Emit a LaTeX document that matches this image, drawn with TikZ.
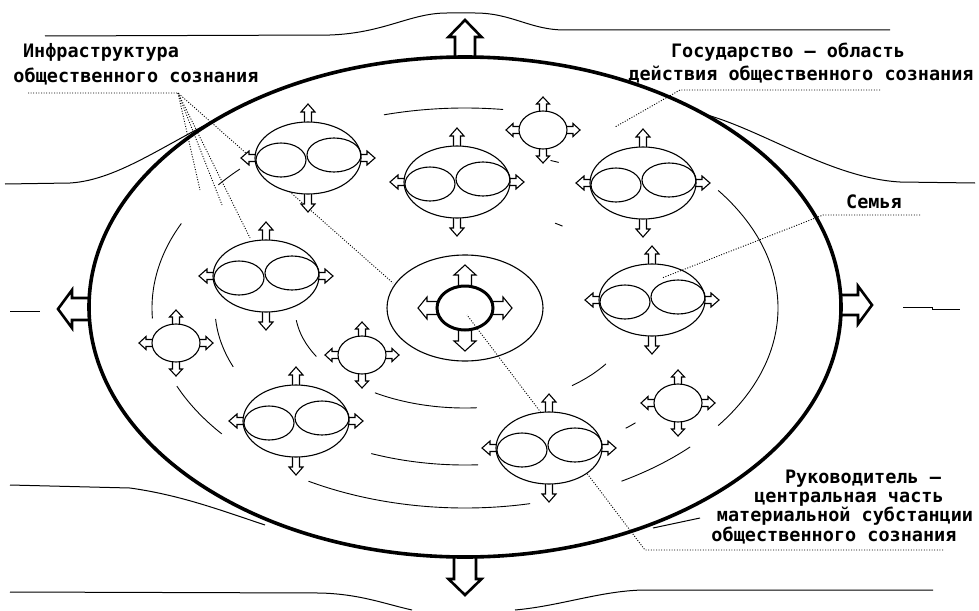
\documentclass[tikz,border=0pt]{standalone}
\usepackage{fontspec}
\newfontfamily\labelfont{DejaVu Sans Mono}
\usetikzlibrary{shapes.geometric}
\newcommand\harr[7]{\draw[#7,shift={#1},rotate=#2] (0,-#4) -- ({#3-#6},-#4) -- ({#3-#6},-#5) -- (#3,0) -- ({#3-#6},#5) -- ({#3-#6},#4) -- (0,#4);}
\tikzset{
  bigell/.style={line width=3.6pt},
  ringarc/.style={line width=0.9pt},
  fieldline/.style={line width=1pt},
  leader/.style={line width=0.9pt,dash pattern=on 1pt off 1.6pt},
  arrowline/.style={line width=1.1pt,fill=white,line join=miter},
  bigarrowline/.style={line width=2.6pt,fill=white,line join=miter},
  famouter/.style={ellipse,draw,line width=1.1pt,fill=white,inner sep=0pt,minimum width=106pt,minimum height=72pt},
  faminner/.style={ellipse,draw,line width=1.1pt,inner sep=0pt,minimum height=34pt},
  cellell/.style={ellipse,draw,line width=1.1pt,fill=white,inner sep=0pt,minimum width=48pt,minimum height=38pt},
  lbl/.style={font=\labelfont\bfseries\fontsize{18.5}{23}\selectfont,inner sep=0pt,anchor=base},
  pics/family/.style={code={
    \harr{(0,-32)}{90}{22}{3.5}{7}{8}{arrowline}
    \harr{(0,32)}{270}{22}{3.5}{7}{8}{arrowline}
    \harr{(-49,0)}{180}{18}{3.5}{7}{8}{arrowline}
    \harr{(49,0)}{0}{18}{3.5}{7}{8}{arrowline}
    \node[famouter] (-o) at (0,0) {};
    \node[faminner,minimum width=50pt] (-l) at (-27,2) {};
    \node[faminner,minimum width=54pt] (-r) at (26,-3) {};
  }},
  pics/cell/.style={code={
    \harr{(0,-17)}{90}{16}{3.5}{6.5}{7}{arrowline}
    \harr{(0,17)}{270}{16}{3.5}{6.5}{7}{arrowline}
    \harr{(-22,0)}{180}{15}{3.5}{6.5}{7}{arrowline}
    \harr{(22,0)}{0}{15}{3.5}{6.5}{7}{arrowline}
    \node[cellell] (-o) at (0,0) {};
  }}
}
\begin{document}
\begin{tikzpicture}[x=1pt,y=-1pt]
\useasboundingbox[fill=white] (0,0) rectangle (979,610);
% field lines outside
\draw[fieldline] (45,36) -- (330,35) .. controls (385,33) and (410,13) .. (447,13) -- (475,13) .. controls (512,13) and (530,30) .. (565,30) -- (890,30);
\draw[fieldline] (10,592) -- (320,593) .. controls (360,594) and (385,604) .. (412,610);
\draw[fieldline] (515,610) .. controls (560,606) and (600,591) .. (643,590) -- (933,590);
\draw[fieldline] (5,184) -- (70,183) .. controls (120,180) and (170,140) .. (232,112);
\draw[fieldline] (700,113) .. controls (760,128) and (830,178) .. (900,182) -- (975,183);
\draw[fieldline] (10,485) -- (130,488) .. controls (180,495) and (220,510) .. (265,525);
\draw[fieldline] (653,528) -- (700,518);
\draw[fieldline] (10,311) -- (40,311);
\draw[fieldline] (903,307) -- (932,307) -- (932,309) -- (960,309);
% concentric ring arcs (center 465,308)
\draw[ringarc] ([shift={(465,308)}]-105:313 and 200) arc (-105:-83:313 and 200);
\draw[ringarc] ([shift={(465,308)}]-36:313 and 200) arc (-36:36:313 and 200);
\draw[ringarc] ([shift={(465,308)}]44:313 and 200) arc (44:60:313 and 200);
\draw[ringarc] ([shift={(465,308)}]78:313 and 200) arc (78:120:313 and 200);
\draw[ringarc] ([shift={(465,308)}]141:313 and 200) arc (141:157:313 and 200);
\draw[ringarc] ([shift={(465,308)}]177:313 and 200) arc (177:205:313 and 200);
\draw[ringarc] ([shift={(465,308)}]218:313 and 200) arc (218:224:313 and 200);
\draw[ringarc] ([shift={(465,308)}]158:250 and 157) arc (158:176:250 and 157);
\draw[ringarc] ([shift={(465,308)}]87:250 and 157) arc (87:112:250 and 157);
\draw[ringarc] ([shift={(465,308)}]47:250 and 157) arc (47:50:250 and 157);
\draw[ringarc] ([shift={(465,308)}]-70:250 and 157) arc (-70:-68:250 and 157);
\draw[ringarc] ([shift={(465,308)}]151:170 and 100) arc (151:173:170 and 100);
\draw[ringarc] ([shift={(465,308)}]86:170 and 100) arc (86:122:170 and 100);
\draw[ringarc] ([shift={(465,308)}]34:170 and 100) arc (34:51:170 and 100);
\draw[ringarc] ([shift={(465,308)}]-58:170 and 100) arc (-58:-55:170 and 100);
% main ellipse and its arrows
\harr{(465,57)}{90}{37}{10}{16.5}{17}{bigarrowline}
\harr{(465,557)}{270}{38}{11}{16.5}{16}{bigarrowline}
\harr{(89,309)}{180}{31}{11}{19}{14}{bigarrowline}
\harr{(841,305)}{0}{31}{10}{19}{14}{bigarrowline}
\node[ellipse,bigell,draw,inner sep=0pt,minimum width=752pt,minimum height=500pt] (state) at (465,307) {};
% centre
\node[ellipse,draw,line width=1.1pt,fill=white,inner sep=0pt,minimum width=156pt,minimum height=106pt] (core) at (465,308) {};
\harr{(465,289)}{90}{24}{6.5}{11}{10}{arrowline}
\harr{(465,327)}{270}{24}{6.5}{11}{10}{arrowline}
\harr{(440,308)}{180}{22}{6.5}{11}{9}{arrowline}
\harr{(490,308)}{0}{22}{6.5}{11}{9}{arrowline}
\node[ellipse,draw,line width=3pt,fill=white,inner sep=0pt,minimum width=56pt,minimum height=44pt] (leader) at (465,308) {};
% labels
\node[lbl] (inf1) at (101,57) {Инфраструктура};
\node[lbl] (inf2) at (136,82) {общественного сознания};
\node[lbl] (gos1) at (788,57) {Государство – область};
\node[lbl] (gos2) at (801,80) {действия общественного сознания};
\node[lbl] (sem) at (874,208) {Семья};
\node[lbl] (ruk1) at (863,483) {Руководитель –};
\node[lbl] (ruk2) at (849,502) {центральная часть};
\node[lbl] (ruk3) at (845,521) {материальной субстанции};
\node[lbl] (ruk4) at (834,541) {общественного сознания};
% leaders under the nodes
\coordinate (infk) at (178,93);
\coordinate (inft) at (28,93);
\coordinate (infc) at (393,283);
\draw[leader] (inft) -- (infk) -- (infc);
\draw[leader] (infk) -- (200,190);
\draw[leader] (infk) -- (222,205);
\draw[leader] (infk) -- (250,238);
\coordinate (rukk) at (645,550);
\coordinate (rukc) at (467,315);
\draw[leader] (943,550) -- (rukk) -- (rukc);
\coordinate (gosk) at (680,90);
\draw[leader] (880,90) -- (gosk) -- (615,127);
% families and cells
\pic (f1) at (308,158) {family};
\pic (f2) at (457,182) {family};
\pic (f3) at (643,183) {family};
\pic (f4) at (266,276) {family};
\pic (f5) at (652,300) {family};
\pic (f6) at (296,421) {family};
\pic (f7) at (549,448) {family};
\pic (s1) at (543,130) {cell};
\pic (s2) at (176,343) {cell};
\pic (s3) at (362,355) {cell};
\pic (s4) at (678,403) {cell};
\coordinate (semk) at (823,215);
\draw[leader] (920,215) -- (semk) -- (662,278);
\end{tikzpicture}
\end{document}
